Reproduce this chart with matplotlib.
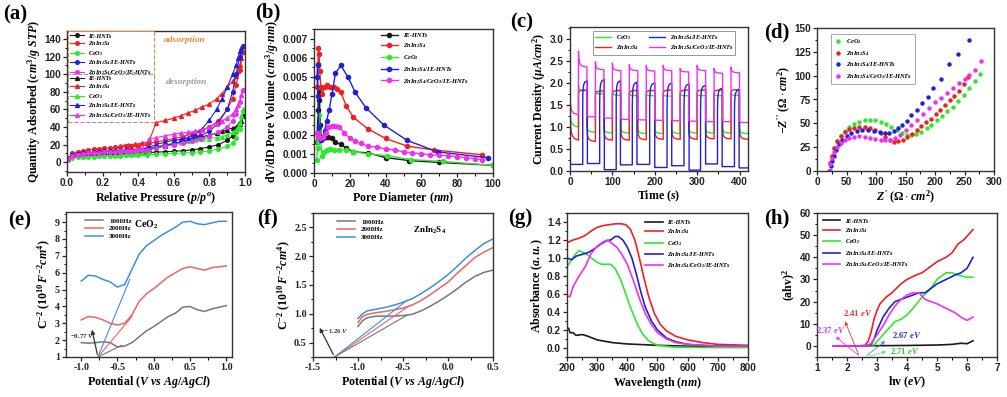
import matplotlib
matplotlib.use('Agg')
import matplotlib.pyplot as plt
from matplotlib.ticker import AutoMinorLocator, FormatStrFormatter
import numpy as np

plt.rcParams.update({
    'font.family': ['Liberation Serif', 'DejaVu Serif'],
    'font.weight': 'bold',
    'mathtext.fontset': 'custom',
    'mathtext.rm': 'Liberation Serif:bold',
    'mathtext.it': 'Liberation Serif:italic:bold',
    'mathtext.bf': 'Liberation Serif:bold',
    'mathtext.default': 'it',
    'axes.linewidth': 1.0,
    'axes.edgecolor': '#333333',
})

W, H = 1007, 397

# colours
K = '#1a1a1a'
R = '#f02020'
G = '#2ee82e'
B = '#2020d8'
M = '#f030f0'

lab_ie = 'IE-HNTs'
lab_zis = r'ZnIn$_2$S$_4$'
lab_ceo = r'CeO$_2$'
lab_zis_ie = r'ZnIn$_2$S$_4$/IE-HNTs'
lab_all = r'ZnIn$_2$S$_4$/CeO$_2$/IE-HNTs'

# ---------------- (a) N2 isotherms ----------------
a_p_ads = [0.005, 0.03, 0.06, 0.09, 0.12, 0.15, 0.18, 0.21, 0.24, 0.27, 0.30, 0.33, 0.36, 0.40,
           0.45, 0.50, 0.55, 0.60, 0.65, 0.70, 0.75, 0.80, 0.85, 0.90, 0.93, 0.95, 0.97, 0.99]
a_ie_ads = [3.5, 6, 7, 7.5, 8, 8.5, 8.8, 9, 9.3, 9.5, 9.8, 10, 10.2, 10.5, 11, 11.5, 12, 12.5,
            13.2, 14, 15.5, 17.5, 20, 25, 30, 36, 45, 52]
a_zis_ads = [5, 10, 12, 13, 14, 15, 15.5, 16, 16.5, 17, 17.5, 18, 18.5, 19, 21, 23, 25, 27, 29,
             32, 35, 40, 47, 60, 72, 88, 105, 125]
a_ceo_ads = [2.5, 5, 5.5, 6, 6.3, 6.5, 6.8, 7, 7.2, 7.4, 7.6, 7.8, 8, 8.2, 8.5, 9, 9.5, 10, 10.5,
             11, 12, 13, 15, 18, 22, 28, 38, 58]
a_zisie_ads = [4, 8, 9.5, 10.5, 11, 11.5, 12, 12.3, 12.6, 13, 13.3, 13.6, 14, 14.5, 15.5, 17, 19,
               21, 24, 27, 30, 35, 45, 60, 80, 100, 120, 132]
a_all_ads = [3.5, 7, 8.5, 9.5, 10, 10.5, 11, 11.3, 11.6, 12, 12.3, 12.6, 13, 13.5, 14.5, 16, 18,
             20, 22, 24, 27, 30, 34, 40, 47, 55, 68, 82]

a_p_des = [0.99, 0.98, 0.97, 0.96, 0.95, 0.93, 0.90, 0.87, 0.84, 0.80, 0.76, 0.72, 0.68, 0.64,
           0.60, 0.55, 0.50, 0.46, 0.42, 0.38, 0.34, 0.30]
a_ie_des = [52, 47, 44, 42, 40, 39, 37, 35, 33, 31, 29, 27, 25, 23, 21, 19, 17, 14, 11.5, 11,
            10.5, 10]
a_zis_des = [125, 118, 110, 104, 98, 92, 85, 78, 72, 66, 63, 59, 56, 53, 50, 47.5, 45, 23, 21.5,
             20.5, 20, 19]
a_ceo_des = [60, 52, 45, 40, 37, 34, 31, 29, 28, 27, 26, 25, 24, 23, 22, 20, 18, 12, 10, 9.5,
             9, 8.5]
a_zisie_des = [132, 130, 126, 118, 110, 100, 85, 72, 60, 48, 38, 32, 28, 26, 25, 23, 20, 17, 15,
               14.5, 14, 13.5]
a_all_des = [82, 76, 70, 65, 60, 55, 50, 47, 44, 40, 37, 35, 34, 33, 32, 30, 28, 26, 15, 13.5,
             13, 12.5]

# ---------------- (b) pore size distribution ----------------
b_ie_d = [1.7, 2.2, 2.6, 3.0, 3.5, 4.0, 5.0, 6.0, 7.0, 8.0, 10.0, 12.0, 15.0, 18.0, 22.0, 30.0,
          40.0, 53.0, 70.0, 100.0]
b_ie_v = [0.0016, 0.0033, 0.0038, 0.0042, 0.0025, 0.0019, 0.0018, 0.0019, 0.0019, 0.0019, 0.0018,
          0.0016, 0.0015, 0.0013, 0.0011, 0.00105, 0.0008, 0.00065, 0.00055, 0.0004]
b_zis_d = [1.7, 2.2, 2.5, 2.8, 3.2, 3.8, 4.5, 6.0, 7.0, 9.0, 11.0, 13.0, 15.0, 18.0, 22.0, 30.0,
           40.0, 52.0, 67.0, 94.0]
b_zis_v = [0.0045, 0.0057, 0.0065, 0.0062, 0.0053, 0.0045, 0.0041, 0.0045, 0.0046, 0.0045,
           0.0045, 0.0044, 0.0042, 0.0035, 0.0029, 0.0023, 0.0018, 0.0014, 0.0012, 0.00095]
b_ceo_d = [1.5, 2.0, 2.5, 3.0, 3.5, 4.5, 5.5, 7.0, 9.0, 11.0, 14.0, 18.0, 22.0, 30.0, 41.0, 54.0,
           72.0, 100.0]
b_ceo_v = [0.0007, 0.0013, 0.0016, 0.0030, 0.0018, 0.0009, 0.0011, 0.0012, 0.00125, 0.0012,
           0.0012, 0.0012, 0.0011, 0.001, 0.0009, 0.0007, 0.0006, 0.0004]
b_zisie_d = [1.7, 2.0, 2.3, 2.7, 3.2, 4.0, 5.0, 6.0, 7.0, 8.5, 10.0, 12.0, 15.0, 19.0, 23.0, 29.0,
             39.0, 52.0, 69.0, 97.0]
b_zisie_v = [0.0050, 0.0056, 0.0040, 0.0024, 0.0018, 0.0017, 0.0019, 0.0022, 0.0027, 0.0033,
             0.0041, 0.0052, 0.0056, 0.0050, 0.0042, 0.0034, 0.0025, 0.0017, 0.0011, 0.0008]
b_all_d = [1.7, 2.5, 3.5, 5.0, 6.5, 8.0, 10.0, 12.0, 14.0, 17.0, 20.0, 23.0, 26.0, 30.0, 35.0,
           40.0, 45.0, 50.0, 55.0, 60.0, 65.0, 70.0, 75.0, 80.0, 85.0, 90.0, 94.0]
b_all_v = [0.0021, 0.0019, 0.0018, 0.0019, 0.0021, 0.0024, 0.00245, 0.00245, 0.0024, 0.0021,
           0.0018, 0.00165, 0.00155, 0.0014, 0.00135, 0.00125, 0.0012, 0.0011, 0.00105, 0.001,
           0.00095, 0.00092, 0.0009, 0.00085, 0.0008, 0.00075, 0.0007]

# ---------------- (c) photocurrent, per light-on / light-off segment ----------------
c_t_on = [20, 60, 100, 140, 180, 220, 260, 300, 340, 380]
c_t_off = [40, 80, 120, 160, 200, 240, 280, 320, 360, 400]
c_t_end = 420
c_all_dark0 = [1.75, 1.26, 1.22, 1.2, 1.18, 1.17, 1.16, 1.15, 1.14, 1.13, 1.13]
c_all_dark1 = [1.28, 1.23, 1.2, 1.17, 1.16, 1.15, 1.14, 1.13, 1.12, 1.12, 1.1]
c_all_on0 = [2.72, 2.48, 2.45, 2.42, 2.4, 2.4, 2.33, 2.4, 2.33, 2.36]
c_all_on1 = [2.36, 2.3, 2.28, 2.28, 2.27, 2.28, 2.25, 2.28, 2.22, 2.23]
c_zis_dark0 = [1.45, 1.0, 0.98, 0.97, 0.96, 0.96, 0.95, 0.95, 0.94, 0.94, 0.94]
c_zis_dark1 = [0.7, 0.67, 0.7, 0.7, 0.71, 0.72, 0.72, 0.72, 0.73, 0.73, 0.72]
c_zis_on0 = [1.75, 1.72, 1.74, 1.74, 1.75, 1.76, 1.76, 1.77, 1.77, 1.78]
c_zis_on1 = [1.84, 1.82, 1.83, 1.83, 1.83, 1.84, 1.84, 1.84, 1.84, 1.85]
c_ceo_dark0 = [1.5, 1.05, 1.03, 1.02, 1.01, 1.0, 1.0, 1.0, 0.99, 0.99, 0.99]
c_ceo_dark1 = [1.0, 0.88, 0.86, 0.86, 0.85, 0.85, 0.85, 0.86, 0.86, 0.86, 0.85]
c_ceo_on0 = [1.95, 1.8, 1.78, 1.77, 1.76, 1.75, 1.75, 1.75, 1.75, 1.75]
c_ceo_on1 = [1.82, 1.75, 1.72, 1.71, 1.71, 1.70, 1.71, 1.71, 1.71, 1.72]
c_zisie_t_on = [30, 70, 109, 147, 188, 229, 269, 308, 348, 388]
c_zisie_t_off = [41, 81, 119, 158, 200, 240, 281, 320, 359, 399]
c_zisie_dark = [0.15, 0.17, 0.03, 0.14, 0.15, 0.08, 0.12, 0.02, 0.16, 0.1, 0.07]
c_zisie_on0 = [1.55, 1.5, 1.5, 1.45, 1.45, 1.4, 1.4, 1.35, 1.35, 1.3]
c_zisie_on1 = [2.05, 2.08, 2.05, 2.02, 2.0, 2.0, 1.98, 1.95, 1.88, 1.85]
# relaxation shape inside one segment (fraction of time, fraction of remaining change)
relax_t = [0.0, 0.04, 0.12, 0.25, 0.5, 1.0]
relax_v = [1.0, 0.55, 0.3, 0.15, 0.05, 0.0]

# ---------------- (d) Nyquist ----------------
d_ceo_x = [20, 22, 25, 29, 34, 40, 47, 55, 63, 72, 81, 90, 99, 108, 117, 126, 135, 144, 152, 160,
           168, 176, 186, 194, 204, 212, 221, 230, 239, 249, 258, 267, 277]
d_ceo_y = [0, 8, 16, 24, 31, 37, 42, 46, 49, 51, 53, 53.5, 53, 51, 49, 46, 43, 40, 38, 37.5, 38.5,
           41, 45, 48, 53.5, 58, 63, 67.5, 73.5, 80, 87, 94, 102]
d_zis_x = [20, 22, 25, 29, 34, 40, 47, 55, 63, 72, 81, 90, 99, 108, 116, 123, 130, 137, 145, 153,
           161, 169, 177, 185, 193, 201, 209, 217, 225, 233, 241, 249, 256]
d_zis_y = [0, 8, 16, 24, 31, 37, 41, 44, 45.5, 46, 46, 45, 43, 40, 36, 32, 30.5, 31, 33, 36, 39,
           43, 47, 51, 55, 60, 64, 69, 74, 79, 84, 91, 99]
d_zisie_x = [22, 23, 25, 28, 32, 37, 43, 50, 58, 67, 77, 87, 97, 106, 115, 122, 130, 137, 144,
             152, 160, 169, 178, 188, 197, 210, 224, 239, 258]
d_zisie_y = [0, 5, 10, 16, 22, 28, 33, 37, 40, 42, 43, 43, 42, 41, 40, 40, 42, 45, 48, 52, 59,
             64, 71, 78, 87, 96, 112, 123, 137]
d_all_x = [20, 22, 25, 29, 34, 40, 47, 55, 63, 72, 81, 90, 99, 108, 116, 124, 132, 140, 150, 160,
           170, 180, 190, 200, 210, 220, 230, 240, 250, 258, 268, 278]
d_all_y = [0, 7, 14, 20, 25, 29, 32, 34.5, 36, 36.5, 36, 35, 34, 33, 32.5, 33, 35, 38, 43, 48,
           54, 60, 66, 72, 77, 82, 87, 92, 97, 101, 106, 115]

# ---------------- (e) Mott-Schottky CeO2 ----------------
e_v = [-1.0, -0.9, -0.8, -0.7, -0.6, -0.5, -0.4, -0.3, -0.2, -0.1, 0.0, 0.1, 0.2, 0.3, 0.4, 0.5,
       0.6, 0.7, 0.8, 0.9, 1.0]
e_1k = [1.85, 1.82, 1.85, 1.9, 1.85, 1.6, 1.65, 1.85, 2.2, 2.55, 2.8, 3.1, 3.4, 3.6, 3.95, 4.0,
        3.8, 3.7, 3.85, 3.95, 4.05]
e_2k = [3.2, 3.4, 3.35, 3.2, 3.0, 2.9, 3.0, 3.5, 4.3, 4.75, 5.05, 5.4, 5.75, 6.0, 6.25, 6.35,
        6.25, 6.15, 6.3, 6.35, 6.4]
e_3k = [5.5, 5.85, 5.8, 5.6, 5.45, 5.15, 5.3, 6.2, 7.1, 7.6, 7.9, 8.2, 8.45, 8.7, 9.0, 9.05,
        8.9, 8.85, 8.95, 9.05, 9.05]
e_fb = -0.77
e_tan_x = [-0.44, -0.3, -0.33]
e_tan_y = [1.7, 3.4, 5.6]

# ---------------- (f) Mott-Schottky ZnIn2S4 ----------------
f_v = [-1.0, -0.95, -0.9, -0.8, -0.7, -0.6, -0.5, -0.4, -0.3, -0.2, -0.1, 0.0, 0.1, 0.2, 0.3,
       0.4, 0.5]
f_1k = [0.78, 0.88, 0.93, 0.96, 0.96, 0.96, 0.97, 0.99, 1.05, 1.13, 1.22, 1.32, 1.43, 1.55, 1.65,
        1.72, 1.76]
f_2k = [0.85, 0.95, 0.99, 1.02, 1.04, 1.07, 1.1, 1.15, 1.23, 1.33, 1.44, 1.55, 1.7, 1.84, 1.98,
        2.07, 2.15]
f_3k = [0.92, 1.0, 1.05, 1.08, 1.11, 1.15, 1.2, 1.26, 1.35, 1.45, 1.56, 1.68, 1.82, 1.97, 2.1,
        2.22, 2.3]
f_fb = -1.26
f_tan_x = [-0.45, -0.42, -0.45]
f_tan_y = [0.98, 1.15, 1.24]

# ---------------- (g) UV-vis ----------------
g_ie_x = [200, 205, 210, 220, 230, 250, 270, 300, 350, 400, 500, 600, 800]
g_ie_y = [0.2, 0.22, 0.17, 0.17, 0.14, 0.15, 0.13, 0.09, 0.06, 0.045, 0.03, 0.02, 0.02]
g_zis_x = [200, 220, 240, 260, 280, 300, 320, 340, 360, 380, 395, 410, 425, 440, 455, 470, 490,
           510, 530, 560, 600, 650, 700, 800]
g_zis_y = [1.17, 1.2, 1.22, 1.25, 1.3, 1.34, 1.36, 1.37, 1.38, 1.38, 1.37, 1.32, 1.2, 1.0, 0.78,
           0.58, 0.38, 0.26, 0.19, 0.13, 0.09, 0.06, 0.04, 0.03]
g_ceo_x = [200, 215, 230, 240, 255, 270, 285, 300, 315, 330, 345, 360, 375, 390, 405, 420, 435,
           450, 470, 500, 550, 650, 800]
g_ceo_y = [0.9, 0.98, 1.05, 1.08, 1.06, 1.03, 0.99, 0.95, 0.93, 0.93, 0.93, 0.88, 0.78, 0.65, 0.5,
           0.37, 0.25, 0.16, 0.08, 0.03, 0.01, 0.005, 0.005]
g_zisie_x = [200, 215, 230, 250, 270, 290, 310, 330, 345, 360, 370, 385, 400, 415, 430, 445, 460,
             480, 500, 530, 560, 600, 700, 800]
g_zisie_y = [1.0, 0.98, 1.02, 1.04, 1.06, 1.1, 1.15, 1.19, 1.2, 1.24, 1.24, 1.2, 1.12, 1.0, 0.82,
             0.62, 0.45, 0.3, 0.2, 0.11, 0.07, 0.04, 0.02, 0.02]
g_all_x = [200, 210, 220, 240, 260, 280, 300, 320, 335, 350, 365, 380, 400, 420, 440, 460, 480,
           500, 530, 560, 600, 700, 800]
g_all_y = [0.58, 0.57, 0.68, 0.8, 0.9, 1.05, 1.13, 1.18, 1.2, 1.16, 1.12, 1.05, 0.93, 0.75, 0.55,
           0.38, 0.26, 0.17, 0.1, 0.06, 0.04, 0.02, 0.02]

# ---------------- (h) Tauc plot ----------------
h_ie_x = [1.55, 2.0, 3.0, 4.0, 5.0, 5.5, 5.8, 6.0, 6.2]
h_ie_y = [0, 0, 0.1, 0.2, 0.4, 0.7, 1.2, 1.0, 2.3]
h_zis_x = [1.55, 2.4, 2.6, 2.7, 2.8, 2.9, 3.0, 3.1, 3.3, 3.5, 3.8, 4.0, 4.3, 4.5, 4.7, 5.0, 5.3,
           5.5, 5.7, 5.9, 6.2]
h_zis_y = [0, 0, 0.3, 2, 6, 12, 16, 19, 22, 24, 28, 30, 32, 33, 35, 38, 40, 42, 46, 48, 52.5]
h_ceo_x = [1.55, 2.7, 2.9, 3.0, 3.2, 3.4, 3.6, 3.8, 4.0, 4.2, 4.5, 4.8, 5.0, 5.3, 5.5, 5.7, 6.0,
           6.2]
h_ceo_y = [0, 0, 0.5, 2, 5, 8, 11, 12, 14, 17, 22, 26, 30, 33, 33, 32, 31, 31]
h_zisie_x = [1.55, 2.6, 2.8, 2.9, 3.0, 3.2, 3.4, 3.6, 3.8, 4.0, 4.2, 4.4, 4.6, 4.8, 5.0, 5.3,
             5.6, 5.8, 6.0, 6.2]
h_zisie_y = [0, 0, 0.5, 3, 7, 13, 17, 20, 21, 22, 23, 24, 24, 26, 28, 30, 32, 33, 35, 40]
h_all_x = [1.55, 2.6, 2.8, 3.0, 3.2, 3.4, 3.6, 3.8, 4.0, 4.2, 4.4, 4.6, 4.8, 5.0, 5.3, 5.6, 5.8,
           6.0, 6.2]
h_all_y = [0, 0, 1, 5, 9, 14, 18, 21, 23, 24, 24, 21, 20, 19, 17, 15, 13, 11.5, 13]


def px_axes(fig, left, top, right, bottom):
    return fig.add_axes([left / W, 1 - bottom / H, (right - left) / W, (bottom - top) / H])


def style_ax(ax, xticks, yticks, xfmt, yfmt, sans=True):
    ax.set_xticks(xticks)
    ax.set_yticks(yticks)
    ax.xaxis.set_major_formatter(FormatStrFormatter(xfmt))
    ax.yaxis.set_major_formatter(FormatStrFormatter(yfmt))
    ax.xaxis.set_minor_locator(AutoMinorLocator(2))
    ax.yaxis.set_minor_locator(AutoMinorLocator(2))
    ax.tick_params(which='major', length=3, width=0.9, pad=1.5, labelsize=7.2, colors='#222222')
    ax.tick_params(which='minor', length=1.8, width=0.7)
    fam = 'Liberation Sans' if sans else 'Liberation Serif'
    for lbl in ax.get_xticklabels() + ax.get_yticklabels():
        lbl.set_fontfamily(fam)
        lbl.set_fontweight('bold')


def leg_font(size):
    return {'family': 'Liberation Serif', 'style': 'italic', 'weight': 'bold', 'size': size}


def seg_curve(t0, t1, v0, v1):
    ts = [t0 + (t1 - t0) * f for f in relax_t]
    vs = [v1 + (v0 - v1) * f for f in relax_v]
    return ts, vs


def photo_trace(dark0, dark1, on0, on1, t_on, t_off):
    ts, vs = [], []
    starts = [0] + list(t_off)
    ends = list(t_on) + [c_t_end]
    for i in range(len(starts)):
        a, b = seg_curve(starts[i], ends[i], dark0[i], dark1[i])
        ts += a
        vs += b
        if i < len(t_on):
            a, b = seg_curve(t_on[i], t_off[i], on0[i], on1[i])
            ts += a
            vs += b
    return ts, vs


fig = plt.figure(figsize=(W / 100, H / 100), dpi=100)
lab_kw = dict(fontsize=8.6, fontfamily='Liberation Serif', fontweight='bold')

# ---- (a)
ax = px_axes(fig, 67, 31, 245, 172)
series_a = [(a_ie_ads, a_ie_des, K, lab_ie), (a_zis_ads, a_zis_des, R, lab_zis),
            (a_ceo_ads, a_ceo_des, G, lab_ceo), (a_zisie_ads, a_zisie_des, B, lab_zis_ie),
            (a_all_ads, a_all_des, M, lab_all)]
h_ads, h_des = [], []
for ads, des, col, lab in series_a:
    l1, = ax.plot(a_p_ads, ads, '-o', color=col, ms=2.6, lw=0.8, label=lab)
    l2, = ax.plot(a_p_des, des, '-^', color=col, ms=2.8, lw=0.8, label=lab)
    h_ads.append(l1)
    h_des.append(l2)
ax.set_xlim(0, 1.0)
ax.set_ylim(-11, 149)
style_ax(ax, np.arange(0, 1.01, 0.2), np.arange(0, 141, 20), '%.1f', '%d')
ax.set_xlabel(r'Relative Pressure ($p/p^o$)', labelpad=1, **lab_kw)
ax.set_ylabel(r'Quantity Adsorbed ($cm^3/g\ STP$)', labelpad=1, **lab_kw)
leg_kw = dict(loc='upper left', prop=leg_font(4.4), fancybox=False, framealpha=1, borderpad=0.3,
              labelspacing=0.12, handlelength=2.4, handletextpad=0.6, borderaxespad=0)
leg1 = ax.legend(handles=h_ads, bbox_to_anchor=(0.005, 0.997), edgecolor='#e8893a', **leg_kw)
leg1.get_frame().set_linestyle('--')
leg1.get_frame().set_linewidth(0.8)
ax.add_artist(leg1)
leg2 = ax.legend(handles=h_des, bbox_to_anchor=(0.005, 0.693), edgecolor='#999999', **leg_kw)
leg2.get_frame().set_linestyle('--')
leg2.get_frame().set_linewidth(0.8)
ax.text(0.66, 0.935, 'adsorption', transform=ax.transAxes, ha='center', va='center',
        color='#e8893a', fontsize=6.8, fontstyle='italic', fontweight='bold')
ax.text(0.67, 0.64, 'desorption', transform=ax.transAxes, ha='center', va='center',
        color='#9a9a9a', fontsize=6.8, fontstyle='italic', fontweight='bold')

# ---- (b)
ax = px_axes(fig, 314, 29, 493, 173)
for dd, vv, col, lab in [(b_ie_d, b_ie_v, K, lab_ie), (b_zis_d, b_zis_v, R, lab_zis),
                         (b_ceo_d, b_ceo_v, G, lab_ceo), (b_zisie_d, b_zisie_v, B, lab_zis_ie),
                         (b_all_d, b_all_v, M, lab_all)]:
    ax.plot(dd, vv, '-o', color=col, ms=3.0, lw=1.0, label=lab)
ax.set_xlim(0, 100)
ax.set_ylim(0, 0.0075)
style_ax(ax, np.arange(0, 101, 20), np.arange(0, 0.00701, 0.001), '%d', '%.3f')
ax.set_xlabel(r'Pore Diameter ($nm$)', labelpad=1, **lab_kw)
ax.set_ylabel(r'dV/dD Pore Volume ($cm^3/g{\cdot}nm$)', labelpad=1, **lab_kw)
ax.legend(loc='upper left', bbox_to_anchor=(0.36, 0.99), prop=leg_font(4.6), frameon=False,
          labelspacing=0.45, handlelength=2.6, handletextpad=0.8, borderaxespad=0)

# ---- (c)
ax = px_axes(fig, 570, 27, 748, 171)
t, v = photo_trace(c_ceo_dark0, c_ceo_dark1, c_ceo_on0, c_ceo_on1, c_t_on, c_t_off)
ax.plot(t, v, color=G, lw=1.0, label=lab_ceo)
t, v = photo_trace(c_zis_dark0, c_zis_dark1, c_zis_on0, c_zis_on1, c_t_on, c_t_off)
ax.plot(t, v, color=R, lw=1.0, label=lab_zis)
t, v = photo_trace(c_zisie_dark, c_zisie_dark, c_zisie_on0, c_zisie_on1, c_zisie_t_on, c_zisie_t_off)
ax.plot(t, v, color=B, lw=1.0, label=lab_zis_ie)
t, v = photo_trace(c_all_dark0, c_all_dark1, c_all_on0, c_all_on1, c_t_on, c_t_off)
ax.plot(t, v, color=M, lw=1.0, label=lab_all)
ax.set_xlim(0, 420)
ax.set_ylim(0, 3.27)
style_ax(ax, np.arange(0, 401, 100), np.arange(0, 3.01, 0.5), '%d', '%.1f')
ax.set_xlabel(r'Time ($s$)', labelpad=1, **lab_kw)
ax.set_ylabel(r'Current Density ($\mu A/cm^2$)', labelpad=1, **lab_kw)
ax.legend(loc='upper center', bbox_to_anchor=(0.53, 0.975), ncol=2, prop=leg_font(4.4),
          fancybox=False, edgecolor='#888888', framealpha=1, borderpad=0.35, labelspacing=0.3,
          handlelength=2.6, columnspacing=1.6, borderaxespad=0).get_frame().set_linewidth(0.6)

# ---- (d)
ax = px_axes(fig, 817, 28, 994, 171)
for xx, yy, col, lab in [(d_ceo_x, d_ceo_y, G, lab_ceo), (d_zis_x, d_zis_y, R, lab_zis),
                         (d_zisie_x, d_zisie_y, B, lab_zis_ie), (d_all_x, d_all_y, M, lab_all)]:
    ax.plot(xx, yy, 'o', color=col, ms=3.2, mec='none', label=lab)
ax.set_xlim(0, 300)
ax.set_ylim(0, 150)
style_ax(ax, np.arange(0, 301, 50), np.arange(0, 151, 25), '%d', '%d')
ax.set_xlabel(r"$Z'$ ($\Omega\cdot cm^2$)", labelpad=1, **lab_kw)
ax.set_ylabel(r"$-Z''$ ($\Omega\cdot cm^2$)", labelpad=1, **lab_kw)
ax.legend(loc='upper left', bbox_to_anchor=(0.08, 0.955), prop=leg_font(4.6), fancybox=False,
          edgecolor='#999999', framealpha=1, borderpad=0.4, labelspacing=0.45, handlelength=1.2,
          borderaxespad=0).get_frame().set_linewidth(0.6)

# ---- (e)
ms_cols = ['#777777', '#f06262', '#3b8fe0']
ax = px_axes(fig, 66, 212, 232, 357)
for yy, col, lab in [(e_1k, ms_cols[0], '1000Hz'), (e_2k, ms_cols[1], '2000Hz'), (e_3k, ms_cols[2], '3000Hz')]:
    ax.plot(e_v, yy, color=col, lw=1.1, label=lab)
for i in range(3):
    ax.plot([e_fb, e_tan_x[i]], [1.0, e_tan_y[i]], color=ms_cols[i], lw=0.8)
ax.annotate('', xy=(-0.86, 2.78), xytext=(e_fb, 1.0),
            arrowprops=dict(arrowstyle='-|>', color='#333333', lw=0.9, mutation_scale=6))
ax.text(-1.15, 2.25, r'$-$0.77 $V$', fontsize=5, color='#333333', va='center')
ax.text(-0.1, 8.85, r'CeO$_\mathrm{2}$', fontsize=7, fontweight='bold', va='center', ha='center')
ax.set_xlim(-1.21, 1.08)
ax.set_ylim(1, 9.6)
style_ax(ax, [-1.0, -0.5, 0.0, 0.5, 1.0], np.arange(1, 10, 1), '%.1f', '%d', sans=False)
ax.set_xlabel(r'Potential ($V\ vs\ Ag/AgCl$)', labelpad=1, **lab_kw)
ax.set_ylabel(r'C$^{\mathrm{-2}}$ ($10^{10}\,F^{-2}cm^4$)', labelpad=1, **lab_kw)
ax.legend(loc='upper left', bbox_to_anchor=(0.1, 0.98), prop={'family': 'Liberation Serif', 'weight': 'bold', 'size': 5},
          frameon=False, labelspacing=0.3, handlelength=2.6, borderaxespad=0)

# ---- (f)
ax = px_axes(fig, 313, 213, 493, 357)
for yy, col, lab in [(f_1k, ms_cols[0], '1000Hz'), (f_2k, ms_cols[1], '2000Hz'), (f_3k, ms_cols[2], '3000Hz')]:
    ax.plot(f_v, yy, color=col, lw=1.1, label=lab)
for i in range(3):
    ax.plot([f_fb, f_tan_x[i]], [0.25, f_tan_y[i]], color=ms_cols[i], lw=0.8)
ax.annotate('', xy=(-1.44, 0.8), xytext=(f_fb, 0.25),
            arrowprops=dict(arrowstyle='-|>', color='#333333', lw=0.9, mutation_scale=6))
ax.text(-1.39, 0.7, r'$-$ 1.26 $V$', fontsize=4.8, color='#333333', va='center')
ax.text(-0.2, 2.45, r'ZnIn$_\mathrm{2}$S$_\mathrm{4}$', fontsize=6.5, fontweight='bold', va='center', ha='center')
ax.set_xlim(-1.5, 0.5)
ax.set_ylim(0.25, 2.75)
style_ax(ax, [-1.5, -1.0, -0.5, 0.0, 0.5], [0.5, 1.0, 1.5, 2.0, 2.5], '%.1f', '%.1f', sans=False)
ax.set_xlabel(r'Potential ($V\ vs\ Ag/AgCl$)', labelpad=1, **lab_kw)
ax.set_ylabel(r'C$^{\mathrm{-2}}$ ($10^{10}\,F^{-2}cm^4$)', labelpad=1, **lab_kw)
ax.legend(loc='upper left', bbox_to_anchor=(0.12, 0.98), prop={'family': 'Liberation Serif', 'weight': 'bold', 'size': 5},
          frameon=False, labelspacing=0.3, handlelength=2.6, borderaxespad=0)

# ---- (g)
ax = px_axes(fig, 567, 213, 748, 357)
for xx, yy, col, lab in [(g_ie_x, g_ie_y, K, lab_ie), (g_zis_x, g_zis_y, R, lab_zis),
                         (g_ceo_x, g_ceo_y, G, lab_ceo), (g_zisie_x, g_zisie_y, B, lab_zis_ie),
                         (g_all_x, g_all_y, M, lab_all)]:
    ax.plot(xx, yy, color=col, lw=1.2, label=lab)
ax.set_xlim(200, 800)
ax.set_ylim(-0.1, 1.5)
style_ax(ax, np.arange(200, 801, 100), np.arange(0, 1.41, 0.2), '%d', '%.1f')
ax.set_xlabel(r'Wavelength ($nm$)', labelpad=1, **lab_kw)
ax.set_ylabel(r'Absorbance ($a.u.$)', labelpad=1, **lab_kw)
ax.legend(loc='upper left', bbox_to_anchor=(0.42, 0.97), prop=leg_font(4.4), frameon=False,
          labelspacing=0.4, handlelength=2.8, borderaxespad=0)

# ---- (h)
ax = px_axes(fig, 817, 213, 997, 357)
for xx, yy, col, lab in [(h_ie_x, h_ie_y, K, lab_ie), (h_zis_x, h_zis_y, R, lab_zis),
                         (h_ceo_x, h_ceo_y, G, lab_ceo), (h_zisie_x, h_zisie_y, B, lab_zis_ie),
                         (h_all_x, h_all_y, M, lab_all)]:
    ax.plot(xx, yy, color=col, lw=1.2, label=lab)
arrows_h = [((2.42, -5), (1.9, 12.2), R), ((2.45, -5), (1.55, 5.0), M),
            ((2.6, -5), (3.35, 3.0), '#5a6ee8'), ((2.64, -5), (3.4, -2.2), '#5fe85f')]
for (x0, y0), (x1, y1), col in arrows_h:
    ax.annotate('', xy=(x1, y1), xytext=(x0, y0),
                arrowprops=dict(arrowstyle='-|>', color=col, lw=0.7, mutation_scale=5, alpha=0.8))
ax.text(2.37, 14.9, r'2.41 $eV$', color='#e03030', fontsize=6.3, ha='center', va='center')
ax.text(1.47, 7.3, r'2.37 $eV$', color='#e030e0', fontsize=6.3, ha='center', va='center')
ax.text(4.0, 5.0, r'2.67 $eV$', color='#3030d0', fontsize=6.3, ha='center', va='center')
ax.text(3.94, -2.3, r'2.71 $eV$', color='#30c030', fontsize=6.3, ha='center', va='center')
ax.set_xlim(1, 7)
ax.set_ylim(-5, 60)
style_ax(ax, np.arange(1, 8, 1), np.arange(0, 61, 10), '%d', '%d')
ax.set_xlabel(r'hv ($eV$)', labelpad=1, **lab_kw)
ax.set_ylabel(r'(ahv)$^\mathrm{2}$', labelpad=1, **lab_kw)
ax.legend(loc='upper left', bbox_to_anchor=(0.02, 0.98), prop=leg_font(4.4), frameon=False,
          labelspacing=0.4, handlelength=2.8, borderaxespad=0)

# panel letters
for txt, x, y in [('(a)', 15, 14), ('(b)', 268, 12), ('(c)', 522, 22), ('(d)', 777, 32),
                  ('(e)', 20, 220), ('(f)', 268, 218), ('(g)', 520, 218), ('(h)', 777, 218)]:
    fig.text(x / W, 1 - y / H, txt, fontsize=15, fontweight='bold', ha='center', va='center',
             fontfamily='Liberation Serif')

fig.savefig('out.png', dpi=100)
